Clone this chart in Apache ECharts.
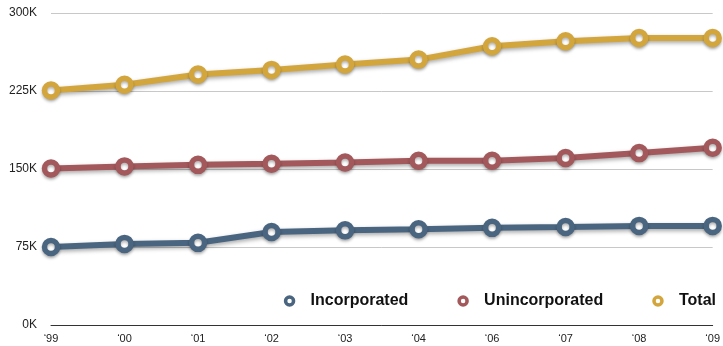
<!DOCTYPE html>
<html>
<head>
<meta charset="utf-8">
<style>
  html, body { margin: 0; padding: 0; background: #fff; }
  #chart { width: 723px; height: 346px; }
</style>
<script src="https://cdn.jsdelivr.net/npm/echarts@6/dist/echarts.min.js"></script>
</head>
<body>
<div id="chart"></div>
<script>
// Years shown on the horizontal axis
const years = ['\u201899', '\u201800', '\u201801', '\u201802', '\u201803', '\u201804', '\u201806', '\u201807', '\u201808', '\u201809'];

// Population, in thousands
const incorporated = [75, 78, 79, 89.5, 91, 92, 93.4, 94.3, 95.3, 95.3];
const unincorporated = [150.5, 152.5, 154, 155, 156.3, 158, 158, 160.5, 165.3, 170.5];
const total = [225.5, 231, 240.8, 245.3, 250.4, 255.2, 268, 272.8, 276, 276];

const seriesNames = ['Incorporated', 'Unincorporated', 'Total'];
const seriesColors = ['#4a6580', '#a3585b', '#d3a63d'];
const seriesData = [incorporated, unincorporated, total];

const chart = echarts.init(document.getElementById('chart'), null, { renderer: 'canvas' });

const series = seriesNames.map((name, i) => ({
  name: name,
  type: 'line',
  data: seriesData[i],
  symbol: 'circle',
  symbolSize: 13,
  showAllSymbol: true,
  z: 3 + i,
  lineStyle: {
    color: seriesColors[i],
    width: 6,
    shadowColor: 'rgba(0,0,0,0.35)',
    shadowBlur: 4,
    shadowOffsetY: 2
  },
  itemStyle: {
    color: '#fff',
    borderColor: seriesColors[i],
    borderWidth: 5.5,
    shadowColor: 'rgba(0,0,0,0.3)',
    shadowBlur: 3,
    shadowOffsetY: 2
  },
  emphasis: { disabled: true },
  animation: false
}));

chart.setOption({
  animation: false,
  grid: { left: 51, right: 8, top: 13, bottom: 21, containLabel: false },
  legend: {
    data: seriesNames.map((n, i) => ({
      name: n,
      icon: 'circle',
      itemStyle: { color: '#fff', borderColor: seriesColors[i], borderWidth: 3.5 }
    })),
    right: 2,
    top: 288,
    itemWidth: 8,
    itemHeight: 8,
    itemGap: 49,
    textStyle: {
      fontFamily: 'Liberation Sans, Arial, sans-serif',
      fontSize: 16,
      fontWeight: 'bold',
      color: '#111',
      padding: [0, 0, 0, 12]
    },
    selectedMode: false
  },
  xAxis: {
    type: 'category',
    data: years,
    boundaryGap: false,
    axisLine: { lineStyle: { color: '#333', width: 1 } },
    axisTick: { show: false },
    axisLabel: {
      fontFamily: 'Liberation Sans, Arial, sans-serif',
      fontSize: 11,
      color: '#222',
      margin: 8
    }
  },
  yAxis: {
    type: 'value',
    min: 0,
    max: 300,
    interval: 75,
    axisLine: { show: false },
    axisTick: { show: false },
    splitLine: { lineStyle: { color: '#c8c8c8', width: 1 } },
    axisLabel: {
      fontFamily: 'Liberation Sans, Arial, sans-serif',
      fontSize: 12,
      color: '#222',
      margin: 14,
      formatter: v => v + 'K'
    }
  },
  series: series
});
</script>
</body>
</html>
